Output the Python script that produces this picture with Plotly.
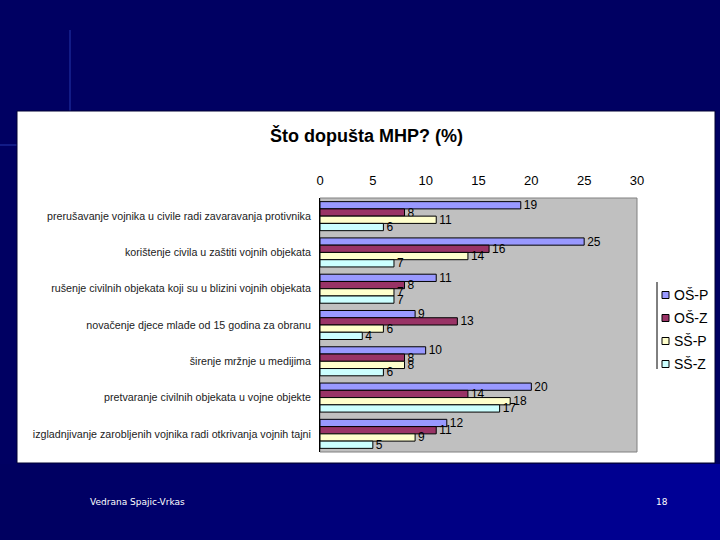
import plotly.graph_objects as go

categories = [
    "prerušavanje vojnika u civile radi zavaravanja protivnika",
    "korištenje civila u zaštiti vojnih objekata",
    "rušenje civilnih objekata koji su u blizini vojnih objekata",
    "novačenje djece mlađe od 15 godina za obranu",
    "širenje mržnje u medijima",
    "pretvaranje civilnih objekata u vojne objekte",
    "izgladnjivanje zarobljenih vojnika radi otkrivanja vojnih tajni",
]
series_names = ["OŠ-P", "OŠ-Z", "SŠ-P", "SŠ-Z"]
os_p = [19, 25, 11, 9, 10, 20, 12]
os_z = [8, 16, 8, 13, 8, 14, 11]
ss_p = [11, 14, 7, 6, 8, 18, 9]
ss_z = [6, 7, 7, 4, 6, 17, 5]
x_ticks = [0, 5, 10, 15, 20, 25, 30]

series_values = [os_p, os_z, ss_p, ss_z]
colors = ["#9999FF", "#993366", "#FFFFCC", "#CCFFFF"]

fig = go.Figure()
for name, vals, col in zip(series_names, series_values, colors):
    fig.add_trace(go.Bar(
        y=categories, x=vals, name=name, orientation="h",
        marker=dict(color=col, line=dict(color="black", width=1)),
        text=[str(v) for v in vals], textposition="outside",
        constraintext="none",
        textfont=dict(family="Liberation Sans, Arial", size=12, color="black"),
        cliponaxis=False, showlegend=False,
    ))

# plot area px: x 320..637, y 198..452
L, R, T, B = 320, 637, 198, 452
W, H = R - L, B - T
def px(x): return (x - L) / W
def py(y): return (B - y) / H

shapes = []
# bottom gradient strips
n = 24
for i in range(n):
    f = i / (n - 1)
    b = int(0x60 + (0x98 - 0x60) * f)
    shapes.append(dict(type="rect", xref="paper", yref="paper",
                       x0=px(720 * i / n), x1=px(720 * (i + 1) / n + 1),
                       y0=py(541), y1=py(464), fillcolor=f"rgb(0,0,{b})",
                       line=dict(width=0), layer="below"))
# faint decorative lines
shapes.append(dict(type="line", xref="paper", yref="paper", x0=px(70), x1=px(70),
                   y0=py(111), y1=py(30), line=dict(color="rgba(60,90,220,0.6)", width=1), layer="below"))
shapes.append(dict(type="line", xref="paper", yref="paper", x0=px(0), x1=px(17),
                   y0=py(145), y1=py(145), line=dict(color="rgba(60,90,220,0.6)", width=1), layer="below"))
# white chart area
shapes.append(dict(type="rect", xref="paper", yref="paper", x0=px(17), x1=px(715),
                   y0=py(463), y1=py(111), fillcolor="white", line=dict(color="#000033", width=1),
                   layer="below"))
# grey plot area
shapes.append(dict(type="rect", xref="paper", yref="paper", x0=0, x1=1, y0=0, y1=1,
                   fillcolor="#C0C0C0", line=dict(color="#808080", width=1), layer="below"))
# legend left border
shapes.append(dict(type="line", xref="paper", yref="paper", x0=px(657), x1=px(657),
                   y0=py(369), y1=py(282), line=dict(color="black", width=1)))

annotations = [
    dict(text="<b>Što dopušta MHP? (%)</b>", xref="paper", yref="paper",
         x=px(366), y=py(135), xanchor="center", yanchor="middle", showarrow=False,
         font=dict(family="Liberation Sans, Arial", size=18, color="black")),
    dict(text="Vedrana Spajic-Vrkas", xref="paper", yref="paper",
         x=px(88), y=py(502), xanchor="left", yanchor="middle", showarrow=False,
         font=dict(family="DejaVu Sans", size=9, color="white")),
    dict(text="18", xref="paper", yref="paper",
         x=px(670), y=py(502), xanchor="right", yanchor="middle", showarrow=False,
         font=dict(family="DejaVu Sans", size=9, color="white")),
]

# custom legend (symbols + labels), built from the series lists
leg_y0, leg_dy = 295, 23
for i, (name, col) in enumerate(zip(series_names, colors)):
    yc = leg_y0 + i * leg_dy
    shapes.append(dict(type="rect", xref="paper", yref="paper",
                       x0=px(662), x1=px(669), y0=py(yc + 3.5), y1=py(yc - 3.5),
                       fillcolor=col, line=dict(color="black", width=1)))
    annotations.append(dict(text=name, xref="paper", yref="paper",
                            x=px(672), y=py(yc), xanchor="left", yanchor="middle",
                            showarrow=False,
                            font=dict(family="Liberation Sans, Arial", size=14, color="black")))

fig.update_layout(
    width=720, height=540,
    margin=dict(l=L, r=720 - R, t=T, b=540 - B, pad=0, autoexpand=False),
    paper_bgcolor="#000062",
    plot_bgcolor="rgba(0,0,0,0)",
    barmode="group", bargap=0.2, bargroupgap=0,
    showlegend=False,
    xaxis=dict(side="top", range=[0, 30], tickvals=x_ticks, showgrid=False, zeroline=False,
               showline=False, ticks="", tickfont=dict(family="Liberation Sans, Arial", size=13, color="black"),
               ticklabelstandoff=9, fixedrange=True),
    yaxis=dict(autorange="reversed", showgrid=False, ticks="", showline=True, linecolor="black",
               tickfont=dict(family="Liberation Sans, Arial", size=10.7, color="#222222"),
               ticklabelstandoff=6),
    shapes=shapes,
    annotations=annotations,
)

fig.write_html("out.html", config={"displayModeBar": False},
               post_script="document.body.style.margin='0';document.body.style.overflow='hidden';")
